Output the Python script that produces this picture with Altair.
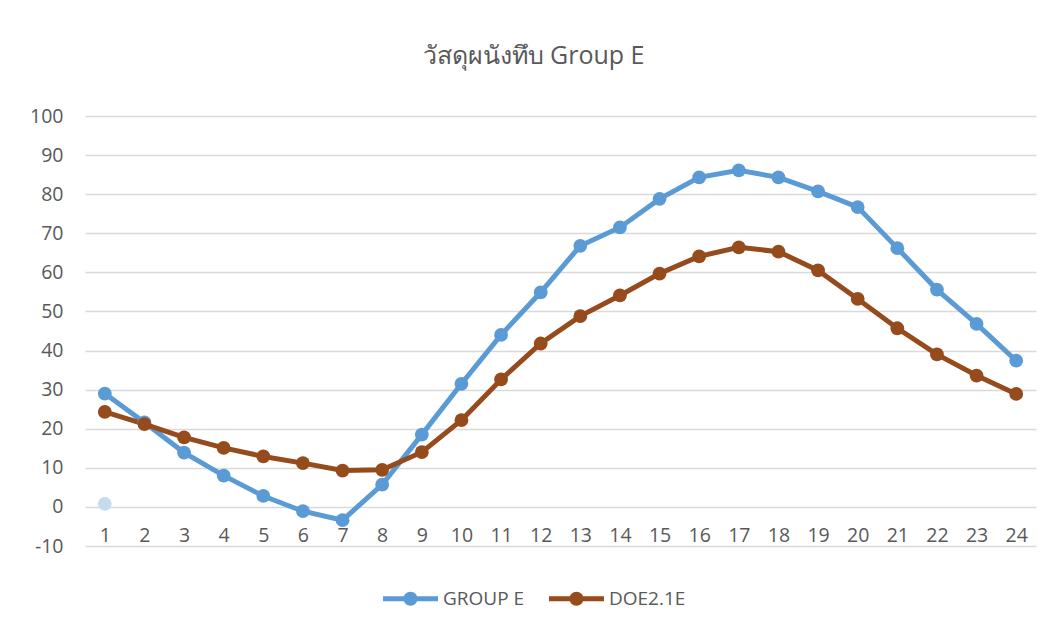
import altair as alt
import pandas as pd

hours = list(range(1, 25))
group_e = [29.0, 21.6, 13.9, 8.0, 2.8, -1.1, -3.4, 5.7, 18.5, 31.5, 44.0, 54.9,
           66.8, 71.5, 78.8, 84.3, 86.1, 84.3, 80.7, 76.7, 66.2, 55.6, 46.8, 37.4]
doe21e = [24.3, 21.2, 17.8, 15.1, 12.9, 11.2, 9.3, 9.5, 14.0, 22.2, 32.6, 41.8,
          48.8, 54.1, 59.7, 64.1, 66.4, 65.3, 60.5, 53.2, 45.7, 39.0, 33.6, 28.9]
series_names = ["GROUP E", "DOE2.1E"]
series_colors = ["#5B9BD5", "#964B1C"]
stray_hour = [1]
stray_value = [0.8]
y_ticks = list(range(-10, 101, 10))
title_text = "วัสดุผนังทึบ Group E"

FONT = "Open Sans"
TXT = "#595959"

rows = []
for name, vals in zip(series_names, [group_e, doe21e]):
    for h, v in zip(hours, vals):
        rows.append({"hour": h, "value": v, "series": name})
df = pd.DataFrame(rows)
stray = pd.DataFrame({"hour": stray_hour, "value": stray_value})

x_enc = alt.X(
    "hour:O",
    scale=alt.Scale(type="point", padding=0.5, domain=hours),
    axis=alt.Axis(title=None, labelAngle=0, domain=False, ticks=False, grid=False,
                  labelFontSize=19.5, labelColor=TXT, labelFont=FONT,
                  offset=-20, labelPadding=0),
)
y_enc = alt.Y(
    "value:Q",
    scale=alt.Scale(domain=[-10, 100], nice=False, zero=False),
    axis=alt.Axis(values=y_ticks, title=None, domain=False, ticks=False,
                  gridColor="#D9D9D9", gridWidth=1.3, labelFontSize=19.5,
                  labelColor=TXT, labelFont=FONT, labelPadding=22,
                  labelExpr="'' + datum.value"),
)

r = 0.2545
t = 0.09
legend_path = (
    f"M-1,{-t} H1 V{t} H-1 Z "
    f"M{-r},0 A{r},{r} 0 1,1 {r},0 A{r},{r} 0 1,1 {-r},0 Z"
)

color_enc = alt.Color(
    "series:N",
    scale=alt.Scale(domain=series_names, range=series_colors),
    legend=alt.Legend(
        title=None, orient="none", legendX=298, legendY=455,
        direction="horizontal", symbolType=legend_path, symbolSize=3025,
        symbolStrokeWidth=0, symbolOpacity=1, labelFontSize=19,
        labelColor=TXT, labelFont=FONT, labelOffset=5, columnPadding=24,
    ),
)

lines = alt.Chart(df).mark_line(strokeWidth=5).encode(
    x=x_enc, y=y_enc, color=color_enc, detail="series:N"
)
points = alt.Chart(df).mark_point(filled=True, size=190, opacity=1).encode(
    x=x_enc, y=y_enc,
    color=alt.Color("series:N", scale=alt.Scale(domain=series_names, range=series_colors), legend=None)
)
stray_pt = alt.Chart(stray).mark_point(filled=True, size=190, opacity=1, color="#C5DCEF").encode(
    x=x_enc, y=y_enc
)

chart = alt.layer(lines, points, stray_pt).properties(
    width=951,
    height=430,
    title=alt.TitleParams(title_text, fontSize=25, font=FONT, fontWeight="normal",
                          color=TXT, offset=37, anchor="middle", dx=-27),
    autosize=alt.AutoSizeParams(type="none"),
    padding={"left": 77, "top": 108, "right": 8, "bottom": 70},
    background="white",
).configure_view(stroke=None)

chart.save("out.html", embed_options={"renderer": "svg", "actions": False})
